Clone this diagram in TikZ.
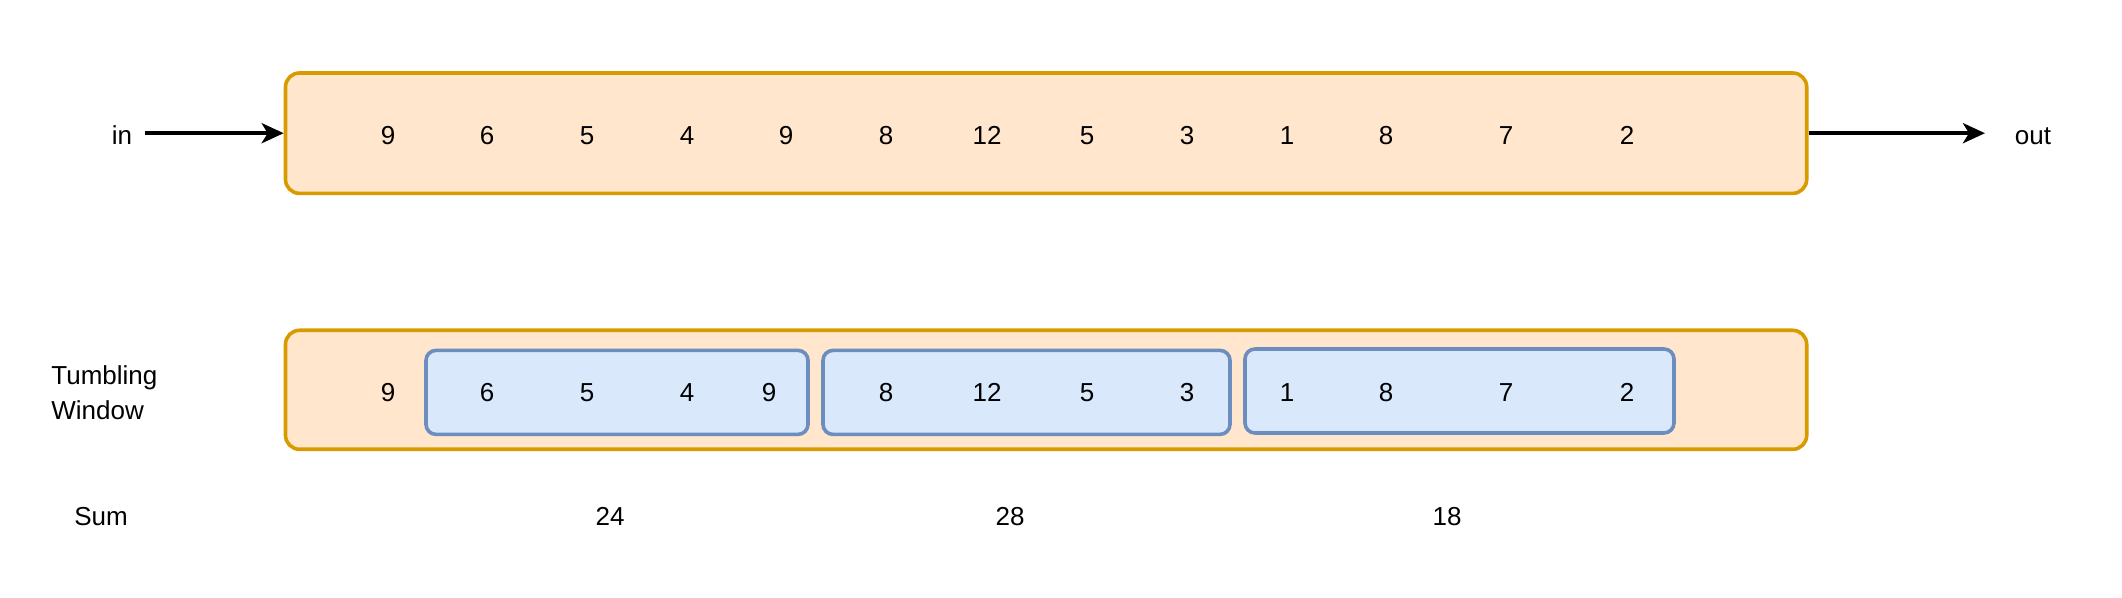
\documentclass[tikz,border=0pt]{standalone}
\usepackage{fontspec}
\setmainfont{Liberation Sans}
\usetikzlibrary{arrows.meta}
\definecolor{ofill}{HTML}{FFE6CC}
\definecolor{ostroke}{HTML}{D79B00}
\definecolor{bfill}{HTML}{DAE8FC}
\definecolor{bstroke}{HTML}{6C8EBF}
\begin{document}
\begin{tikzpicture}[x=0.5pt,y=-0.5pt,
  obox/.style={draw=ostroke,fill=ofill,line width=1.8pt,rounded corners=7pt,inner sep=0pt},
  wbox/.style={draw=bstroke,fill=bfill,line width=1.8pt,rounded corners=5pt,inner sep=0pt},
  lbl/.style={font=\fontsize{13}{17.5}\selectfont,inner sep=0pt,text=black},
  num/.style={lbl,text height=9.3pt,text depth=0pt},
  flow/.style={line width=2pt,-{Stealth[length=11pt,width=10pt,inset=3pt]}}]
\useasboundingbox (0,0) rectangle (2122,598);
% top box
\node[obox,minimum width=760.6pt,minimum height=60.2pt] (top) at (1046.1,133.2) {};
% bottom box
\node[obox,minimum width=760.6pt,minimum height=59.5pt] (bot) at (1046.1,389.8) {};
% window boxes
\node[wbox,minimum width=191pt,minimum height=42pt] (w1) at (617,392.4) {};
\node[wbox,minimum width=203.5pt,minimum height=42pt] (w2) at (1026.5,392.4) {};
\node[wbox,minimum width=214.5pt,minimum height=42pt] (w3) at (1459.5,391) {};
% in/out
\node[num] (in) at (122,135) {in};
\node[num] (out) at (2033,135) {out};
\coordinate (instart) at (145,133.2);
\coordinate (outend) at (1985,133.2);
\draw[flow] (instart) -- (top.west);
\draw[flow] (top.east) -- (outend);
% top numbers
\foreach \n/\x [count=\i] in {9/388,6/487,5/587,4/687,9/786,8/886,12/987,5/1087,3/1187,1/1287,8/1386,7/1506,2/1627}
  \node[num] (t\i) at (\x,135) {\n};
% bottom numbers
\foreach \n/\x [count=\i] in {9/388,6/487,5/587,4/687,9/769,8/886,12/987,5/1087,3/1187,1/1287,8/1386,7/1506,2/1627}
  \node[num] (b\i) at (\x,392) {\n};
% labels
\node[lbl,align=left,anchor=west] (tw) at (51,392.5) {Tumbling\\Window};
\node[num] (sum) at (101,516) {Sum};
\node[num] (s1) at (610,516) {24};
\node[num] (s2) at (1010,516) {28};
\node[num] (s3) at (1447,516) {18};
\end{tikzpicture}
\end{document}
